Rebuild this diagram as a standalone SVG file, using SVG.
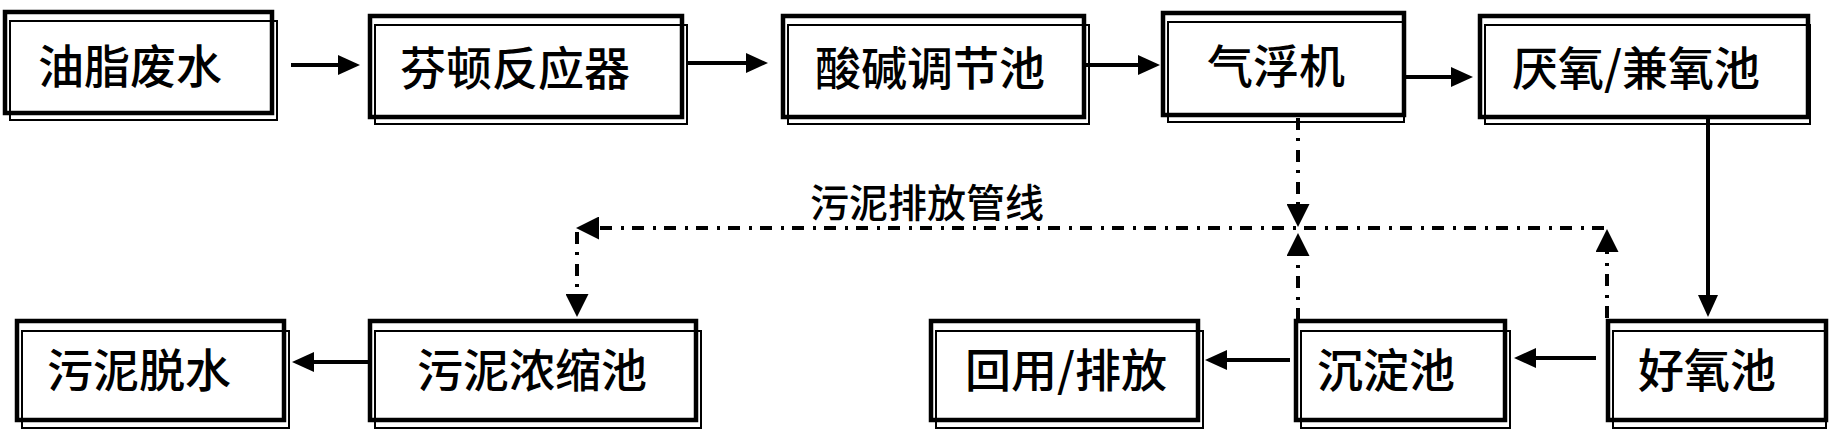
<svg xmlns="http://www.w3.org/2000/svg" width="1832" height="440" viewBox="0 0 1832 440">
<style>
.bx{fill:none;stroke:#000;stroke-width:4.5}
.sh{fill:none;stroke:#000;stroke-width:2}
.t{font-family:"Noto Sans CJK SC","Noto Sans CJK JP",sans-serif;font-size:46px;font-weight:500;fill:#000;dominant-baseline:central}
.lb{font-family:"Noto Sans CJK SC","Noto Sans CJK JP",sans-serif;font-size:39px;font-weight:500;fill:#000;dominant-baseline:central}
.ln{fill:none;stroke:#000;stroke-width:4}
.dd{fill:none;stroke:#000;stroke-width:4;stroke-dasharray:12 8 3 9}
</style>
<defs>
<marker id="ah" viewBox="0 0 22 20" refX="14" refY="10" markerWidth="22" markerHeight="20" markerUnits="userSpaceOnUse" orient="auto">
<path d="M0,0 L22,10 L0,20 z" fill="#000" stroke="none"/>
</marker>
<marker id="ad" viewBox="0 0 23 23" refX="15" refY="11.5" markerWidth="23" markerHeight="23" markerUnits="userSpaceOnUse" orient="auto">
<path d="M0,0 L23,11.5 L0,23 z" fill="#000" stroke="none"/>
</marker>
</defs>
<rect width="1832" height="440" fill="#fff"/>

<g id="n1"><rect class="sh" x="10" y="21" width="267" height="99"/><rect class="bx" x="5" y="12" width="267" height="101"/><text class="t" x="38" y="63">油脂废水</text></g>
<g id="n2"><rect class="sh" x="375" y="25" width="312" height="99"/><rect class="bx" x="370" y="16" width="312" height="101"/><text class="t" x="400" y="65">芬顿反应器</text></g>
<g id="n3"><rect class="sh" x="788" y="25" width="301" height="99"/><rect class="bx" x="783" y="16" width="301" height="101"/><text class="t" x="815" y="65">酸碱调节池</text></g>
<g id="n4"><rect class="sh" x="1168" y="22" width="236" height="100"/><rect class="bx" x="1163" y="13" width="241" height="102"/><text class="t" x="1207" y="63">气浮机</text></g>
<g id="n5"><rect class="sh" x="1485" y="25" width="325" height="99"/><rect class="bx" x="1480" y="16" width="328" height="101"/><text class="t" x="1512" y="65">厌氧/兼氧池</text></g>

<g id="n6"><rect class="sh" x="22" y="331" width="267" height="97"/><rect class="bx" x="17" y="321" width="267" height="99"/><text class="t" x="47" y="367">污泥脱水</text></g>
<g id="n7"><rect class="sh" x="375" y="331" width="326" height="97"/><rect class="bx" x="370" y="321" width="326" height="99"/><text class="t" x="417" y="367">污泥浓缩池</text></g>
<g id="n8"><rect class="sh" x="936" y="331" width="267" height="97"/><rect class="bx" x="931" y="321" width="267" height="99"/><text class="t" x="965" y="367">回用/排放</text></g>
<g id="n9"><rect class="sh" x="1301" y="331" width="209" height="97"/><rect class="bx" x="1296" y="321" width="209" height="99"/><text class="t" x="1317" y="367">沉淀池</text></g>
<g id="n10"><rect class="sh" x="1613" y="331" width="213" height="97"/><rect class="bx" x="1608" y="321" width="218" height="99"/><text class="t" x="1638" y="367">好氧池</text></g>

<g id="connectors">
<line class="ln" x1="291" y1="65" x2="352" y2="65" marker-end="url(#ah)"/>
<line class="ln" x1="688" y1="63" x2="760" y2="63" marker-end="url(#ah)"/>
<line class="ln" x1="1086" y1="65" x2="1152" y2="65" marker-end="url(#ah)"/>
<line class="ln" x1="1406" y1="77" x2="1465" y2="77" marker-end="url(#ah)"/>
<line class="ln" x1="1708" y1="118" x2="1708" y2="309" marker-end="url(#ah)"/>
<line class="ln" x1="1596" y1="358" x2="1522" y2="358" marker-end="url(#ah)"/>
<line class="ln" x1="1290" y1="360" x2="1213" y2="360" marker-end="url(#ah)"/>
<line class="ln" x1="368" y1="362" x2="300" y2="362" marker-end="url(#ah)"/>
<line class="dd" x1="1607" y1="318" x2="1607" y2="237" marker-end="url(#ad)"/>
<line class="dd" x1="1604" y1="228" x2="584" y2="228" marker-end="url(#ad)"/>
<line class="dd" x1="1298" y1="118" x2="1298" y2="219" marker-end="url(#ad)"/>
<line class="dd" x1="1298" y1="320" x2="1298" y2="241" marker-end="url(#ad)"/>
<line class="dd" x1="577" y1="232" x2="577" y2="309" marker-end="url(#ad)"/>
<text class="lb" x="810" y="200">污泥排放管线</text>
</g>
</svg>
